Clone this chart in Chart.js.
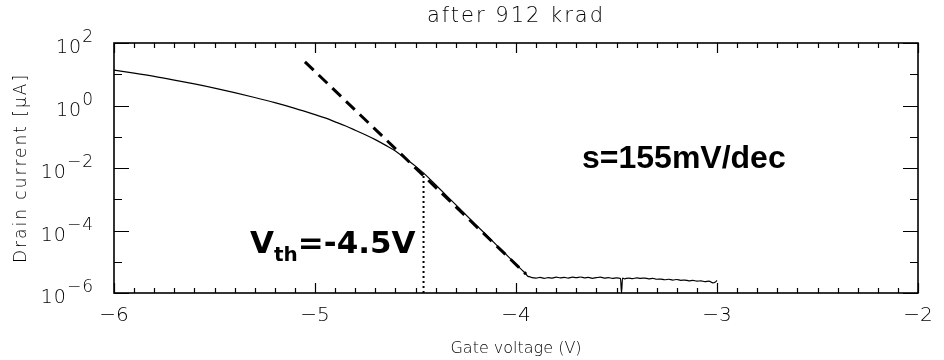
<!DOCTYPE html>
<html>
<head>
<meta charset="utf-8">
<script src="https://cdn.jsdelivr.net/npm/chart.js@4.4.1/dist/chart.umd.min.js"></script>
<style>
html, body { margin: 0; padding: 0; background: #fff; }
</style>
</head>
<body>
<canvas id="canvas" width="944" height="360"></canvas>
<script>
// Id-Vg curve after 912 krad

// measured curve: gate voltage (V) and drain current (uA)
var gateV = [
  -6.00, -5.90, -5.80, -5.70, -5.60, -5.50, -5.40, -5.30, -5.20, -5.10,
  -5.00, -4.95, -4.90, -4.85, -4.80, -4.75, -4.70, -4.65, -4.60, -4.55,
  -4.50, -4.45, -4.40, -4.30, -4.20, -4.10, -4.00, -3.96, -3.95, -3.94,
  -3.93, -3.92, -3.90, -3.88, -3.86, -3.84, -3.82, -3.80, -3.78, -3.76,
  -3.74, -3.72, -3.70, -3.68, -3.66, -3.64, -3.62, -3.60, -3.58, -3.56,
  -3.54, -3.52, -3.50, -3.48, -3.475, -3.47, -3.46, -3.44, -3.42, -3.40,
  -3.38, -3.36, -3.34, -3.32, -3.30, -3.28, -3.26, -3.24, -3.22, -3.20,
  -3.18, -3.16, -3.14, -3.12, -3.10, -3.08, -3.06, -3.04, -3.02, -3.01,
  -3.00
];
var drainI = [
  13.5, 10.8, 8.5, 6.5, 4.9, 3.6, 2.57, 1.80, 1.23, 0.81,
  0.51, 0.40, 0.30, 0.224, 0.162, 0.116, 0.081, 0.054, 0.035, 0.020,
  0.0115, 0.0060, 0.0029, 6.7e-4, 1.55e-4, 3.6e-5, 8.3e-6, 4.7e-6, 4.0e-6, 3.4e-6,
  3.3e-6, 3.1e-6, 3.0e-6, 3.15e-6, 2.95e-6, 3.1e-6, 3.0e-6, 3.2e-6, 3.05e-6, 3.15e-6,
  3.0e-6, 3.2e-6, 3.1e-6, 3.25e-6, 3.05e-6, 3.15e-6, 2.95e-6, 3.1e-6, 3.2e-6, 3.0e-6,
  3.1e-6, 2.95e-6, 3.05e-6, 2.9e-6, 1.0e-6, 3.0e-6, 2.85e-6, 3.0e-6, 2.9e-6, 3.05e-6,
  2.95e-6, 3.0e-6, 2.85e-6, 2.95e-6, 2.75e-6, 2.8e-6, 2.65e-6, 2.75e-6, 2.6e-6, 2.7e-6,
  2.55e-6, 2.6e-6, 2.45e-6, 2.55e-6, 2.4e-6, 2.45e-6, 2.3e-6, 2.4e-6, 2.1e-6, 2.2e-6,
  2.5e-6
];

// subthreshold fit (dashed) and threshold marker (dotted)
var fitV = [-5.05, -3.95];
var fitI = [25, 4.0e-6];
var vthV = [-4.46, -4.46];
var vthI = [1e-6, 0.0070];

// axes
var xTicks = [-6, -5, -4, -3, -2];
var yTickValues = [1e2, 1e0, 1e-2, 1e-4, 1e-6];
var yTickExp = ['2', '0', '\u22122', '\u22124', '\u22126'];

var TITLE = 'after 912 krad';
var YTITLE = 'Drain current [\u03bcA]';
var SLOPE_TXT = 's=155mV/dec';

function pts(xs, ys){
  var out = [];
  for(var i = 0; i < xs.length; i++){
    out.push({x: xs[i], y: ys[i]});
  }
  return out;
}

var FAM = '"DejaVu Sans", sans-serif';

var idlFrame = {
  id: 'idlFrame',
  afterDraw: function(chart){
    var ctx = chart.ctx;
    var a = chart.chartArea;
    var xs = chart.scales.x, ys = chart.scales.y;
    ctx.save();
    ctx.strokeStyle = '#000';
    ctx.lineWidth = 1.6;
    ctx.strokeRect(a.left, a.top, a.right - a.left, a.bottom - a.top);

    // inward ticks, x every 0.1 V
    ctx.lineWidth = 1.2;
    ctx.beginPath();
    for(var k = 0; k <= 40; k++){
      var v = xTicks[0] + k * 0.1;
      var len = (k % 10 == 0) ? 10 : 5;
      var px = Math.round(xs.getPixelForValue(v)) + 0.5;
      ctx.moveTo(px, a.bottom); ctx.lineTo(px, a.bottom - len);
      ctx.moveTo(px, a.top); ctx.lineTo(px, a.top + len);
    }
    // y ticks each decade
    for(var e = -6; e <= 2; e++){
      var len2 = (e % 2 == 0) ? 15 : 8;
      var py = Math.round(ys.getPixelForValue(Math.pow(10, e))) + 0.5;
      ctx.moveTo(a.left, py); ctx.lineTo(a.left + len2, py);
      ctx.moveTo(a.right, py); ctx.lineTo(a.right - len2, py);
    }
    ctx.stroke();

    // y labels 10^n
    ctx.fillStyle = '#000';
    ctx.textBaseline = 'alphabetic';
    ctx.textAlign = 'left';
    ctx.letterSpacing = '1px';
    for(var i = 0; i < yTickValues.length; i++){
      var yy = ys.getPixelForValue(yTickValues[i]);
      ctx.font = '200 17px ' + FAM;
      var we = ctx.measureText(yTickExp[i]).width;
      ctx.font = '200 19px ' + FAM;
      var wb = ctx.measureText('10').width;
      var right = a.left - 20;
      ctx.fillText('10', right - we - wb, yy + 10);
      ctx.font = '200 17px ' + FAM;
      ctx.fillText(yTickExp[i], right - we, yy - 1);
    }

    // title
    ctx.textAlign = 'center';
    ctx.letterSpacing = '2px';
    ctx.font = '200 21px ' + FAM;
    ctx.fillText(TITLE, (a.left + a.right) / 2, 22);

    // y title
    ctx.save();
    ctx.translate(26, (a.top + a.bottom) / 2);
    ctx.rotate(-Math.PI / 2);
    ctx.letterSpacing = '2px';
    ctx.font = '200 17px ' + FAM;
    ctx.fillText(YTITLE, 0, 0);
    ctx.restore();

    // annotations
    ctx.letterSpacing = '0px';
    ctx.textAlign = 'left';
    ctx.font = 'bold 32px "Liberation Sans", sans-serif';
    ctx.fillText(SLOPE_TXT, 582, 168);

    var x0 = 250, base = 253;
    ctx.font = 'bold 31px ' + FAM;
    ctx.fillText('V', x0, base);
    x0 += ctx.measureText('V').width;
    ctx.font = 'bold 20px ' + FAM;
    ctx.fillText('th', x0, base + 8);
    x0 += ctx.measureText('th').width;
    ctx.font = 'bold 31px ' + FAM;
    ctx.fillText('=-4.5V', x0, base);
    ctx.restore();
  }
};

var config = {
  type: 'scatter',
  data: {
    datasets: [
      {label: 'Id', data: pts(gateV, drainI), showLine: true, borderColor: '#000',
       borderWidth: 1.2, pointRadius: 0, cubicInterpolationMode: 'monotone'},
      {label: 'fit', data: pts(fitV, fitI), showLine: true, borderColor: '#000',
       borderWidth: 3, borderDash: [12, 7], pointRadius: 0},
      {label: 'vth', data: pts(vthV, vthI), showLine: true, borderColor: '#000',
       borderWidth: 2, borderDash: [2, 3], pointRadius: 0}
    ]
  },
  options: {
    responsive: false,
    animation: false,
    layout: {padding: {left: 0, right: 26, top: 43, bottom: 0}},
    plugins: {legend: {display: false}, tooltip: {enabled: false}, title: {display: false}},
    scales: {
      x: {
        type: 'linear', min: -6, max: -2,
        grid: {display: false, drawTicks: false},
        border: {display: false},
        afterBuildTicks: function(s){ s.ticks = xTicks.map(function(v){ return {value: v}; }); },
        afterFit: function(s){ s.height = 67; },
        ticks: {
          padding: 11, color: '#000',
          font: {family: FAM, size: 20, weight: 200},
          callback: function(v){ return (v < 0 ? '\u2212' : '') + Math.abs(v); }
        },
        title: {display: true, text: 'Gate voltage (V)', color: '#000',
          font: {family: FAM, size: 16, weight: 200},
          padding: {top: 0, bottom: 2}}
      },
      y: {
        type: 'logarithmic', min: 1e-6, max: 1e2,
        grid: {display: false, drawTicks: false},
        border: {display: false},
        ticks: {display: false},
        afterFit: function(s){ s.width = 114; },
        title: {display: false}
      }
    }
  },
  plugins: [idlFrame]
};

var ctx = document.getElementById('canvas').getContext('2d');
var chart = new Chart(ctx, config);
</script>
</body>
</html>
